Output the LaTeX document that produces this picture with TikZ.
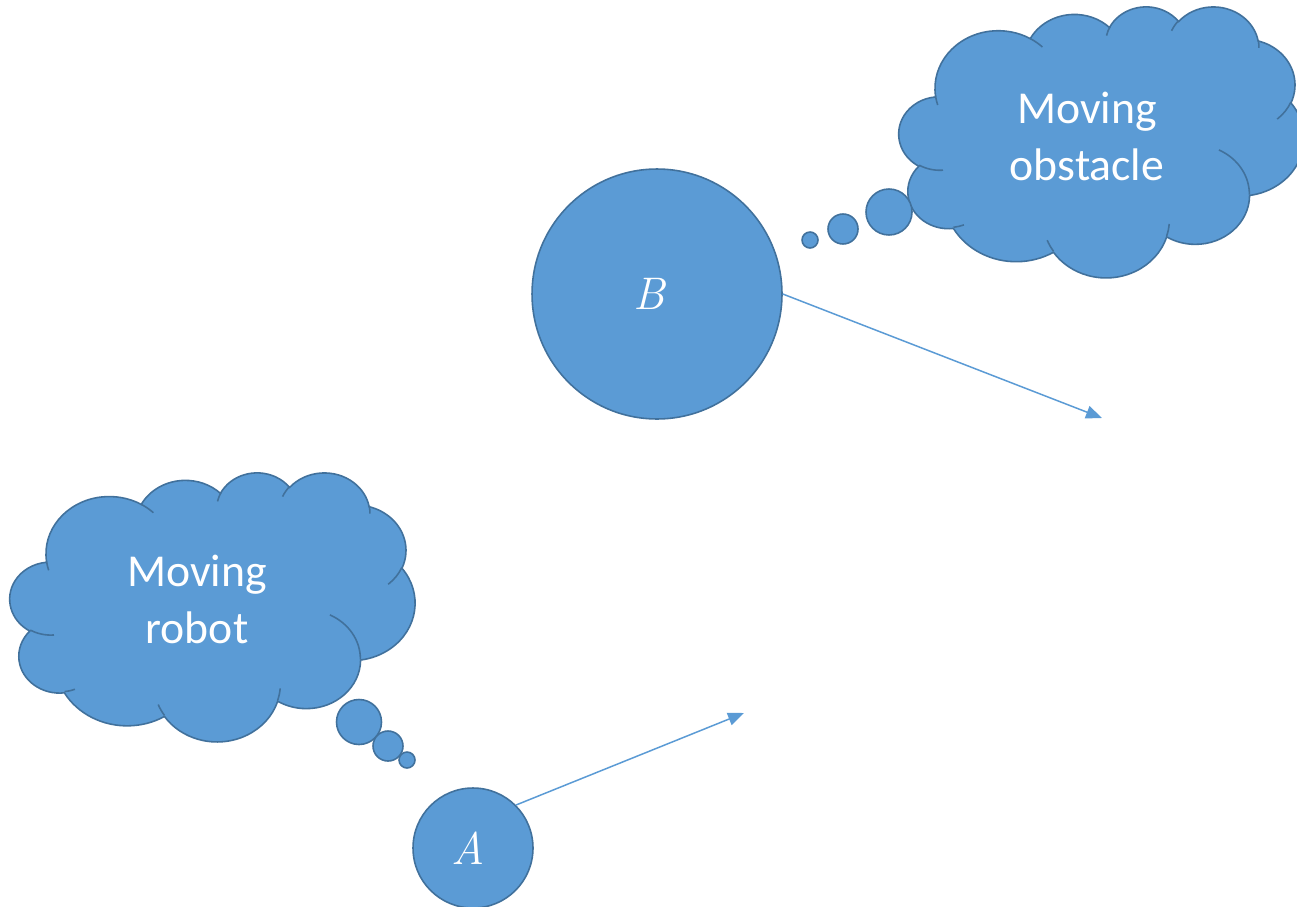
\documentclass[tikz,border=0pt]{standalone}
\usepackage{fontspec}
\newfontfamily\calibri{Carlito}
\usetikzlibrary{arrows.meta}
\definecolor{cloudfill}{HTML}{5B9BD5}
\definecolor{cloudline}{HTML}{41719C}

% Elliptic arc given by its radii, a visual (ray) start angle and a sweep,
% converted to the parametric angles that TikZ's arc expects.
\newcommand\cloudarc[4]{%
  \pgfextra{%
    \pgfmathparse{atan2((#1)*sin(#3),(#2)*cos(#3))}\let\cloudT\pgfmathresult
    \pgfmathparse{\cloudT+360*round(((#3)-\cloudT)/360)}\xdef\cloudS{\pgfmathresult}%
    \pgfmathparse{atan2((#1)*sin((#3)+(#4)),(#2)*cos((#3)+(#4)))}\let\cloudT\pgfmathresult
    \pgfmathparse{\cloudT+360*round(((#3)+(#4)-\cloudT)/360)}\xdef\cloudE{\pgfmathresult}%
  }
  arc[x radius=#1, y radius=#2, start angle=\cloudS, end angle=\cloudE]}

% Cloud outline and its inner creases, in a 43.2 x 43.2 box
\newcommand\drawcloud{%
  \draw[cloudshape] (3.900,14.370)
    \cloudarc{6.753}{9.190}{-190.4875}{123.7805}
    \cloudarc{5.333}{7.267}{-144.1024}{89.9452}
    \cloudarc{4.365}{5.945}{-145.8079}{99.7230}
    \cloudarc{4.857}{6.595}{-130.9861}{117.2417}
    \cloudarc{5.333}{7.273}{-78.7089}{109.0269}
    \cloudarc{6.775}{9.220}{-46.2673}{130.2690}
    \cloudarc{5.785}{7.867}{0.6250}{114.0333}
    \cloudarc{6.752}{9.215}{22.4516}{115.1726}
    \cloudarc{7.720}{10.543}{66.2426}{75.7110}
    \cloudarc{4.360}{5.918}{-274.9421}{146.7356}
    \cloudarc{4.345}{5.945}{-246.8285}{152.5189}
    -- cycle;
  \draw[cloudcrease]
    (4.693,26.177) \cloudarc{4.345}{5.945}{86.7420}{26.4295}
    (6.928,34.899) \cloudarc{4.360}{5.918}{73.6105}{11.4475}
    (16.478,39.090) \cloudarc{6.752}{9.215}{137.6242}{14.0811}
    (28.827,34.751) \cloudarc{6.752}{9.215}{6.4533}{15.9984}
    (34.129,22.954) \cloudarc{5.785}{7.867}{-70.2924}{70.9174}
    (41.798,15.354) \cloudarc{5.333}{7.273}{30.3180}{27.7515}
    (38.324,5.426) \cloudarc{4.857}{6.595}{-13.7443}{14.8589}
    (29.078,3.952) \cloudarc{4.857}{6.595}{-149.1815}{18.1954}
    (22.141,4.720) \cloudarc{4.365}{5.945}{-163.4943}{17.6864}
    (14.000,5.192) \cloudarc{6.753}{9.190}{-66.7070}{12.3194}
    (4.127,15.789) \cloudarc{6.753}{9.190}{157.6544}{11.8582};
}

\begin{document}
\begin{tikzpicture}[x=0.02cm, y=-0.02cm,
  cloudshape/.style={fill=cloudfill, draw=cloudline, line width=0.9pt},
  cloudcrease/.style={draw=cloudline, line width=0.9pt},
  body/.style={circle, fill=cloudfill, draw=cloudline, line width=0.9pt,
    inner sep=0pt},
  bodyname/.style={text=white, inner sep=0pt,
    font=\fontsize{26}{31}\selectfont\itshape},
  cloudtext/.style={text=white, align=center,
    font=\calibri\fontsize{26}{32.4}\selectfont},
  motion/.style={draw=cloudfill, line width=0.85pt,
    -{Triangle[length=0.32cm, width=0.26cm]}}]

\useasboundingbox (0,0) rectangle (1297,906);
\clip (0,0) rectangle (1297,906);
\fill[white] (0,0) rectangle (1297,906);

% thought cloud of the robot
\begin{scope}[shift={(10,472)}, x=0.1875cm, y=-0.12454cm]
  \drawcloud
\end{scope}
\draw[cloudshape] (359,722) circle[radius=22.5];
\draw[cloudshape] (388,746) circle[radius=15];
\draw[cloudshape] (407,760) circle[radius=8];
\node[cloudtext, anchor=base] (robotText) at (197,643) {Moving\\robot};

% thought cloud of the obstacle
\begin{scope}[shift={(899,6)}, x=0.1875cm, y=-0.12546cm]
  \drawcloud
\end{scope}
\draw[cloudshape] (889,212) circle[radius=23];
\draw[cloudshape] (843,229) circle[radius=15];
\draw[cloudshape] (810,240) circle[radius=8];
\node[cloudtext, anchor=base] (obstacleText) at (1087,180) {Moving\\obstacle};

% the two bodies and their motion
\node[body, minimum size=5cm,
  label={[bodyname, xshift=-0.15cm]center:B}] (B) at (657,294) {};
\node[body, minimum size=2.4cm,
  label={[bodyname, xshift=-0.1cm]center:A}] (A) at (473,848) {};

\coordinate (headB) at (1102,418);
\coordinate (headA) at (744,713);
\draw[motion] (B.east) -- (headB);
\draw[motion] (A.45) -- (headA);
\end{tikzpicture}
\end{document}
